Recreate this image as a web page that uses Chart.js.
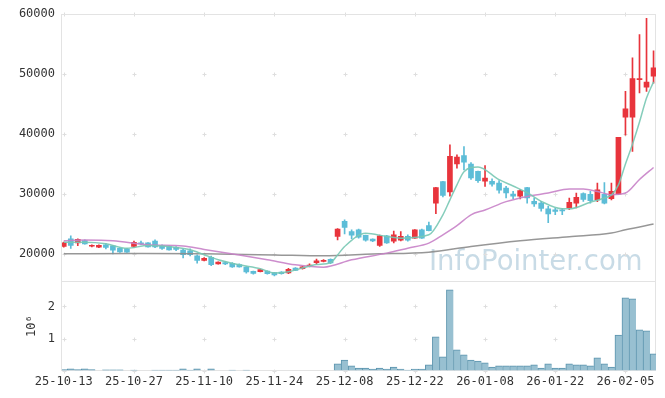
<!DOCTYPE html>
<html>
<head>
<meta charset="utf-8">
<script src="https://cdn.jsdelivr.net/npm/chart.js@4.4.1/dist/chart.umd.min.js"></script>
<style>
  html, body { margin: 0; padding: 0; background: #fff; }
</style>
</head>
<body>
<canvas id="myChart" width="665" height="398"></canvas>
<script>
// tick labels, one every 10 trading days
const tickLabels = ["25-10-13", "25-10-27", "25-11-10", "25-11-24", "25-12-08", "25-12-22", "26-01-08", "26-01-22", "26-02-05"];
const priceTicks = [20000, 30000, 40000, 50000, 60000];
const volumeTicks = [0, 1000000, 2000000];

// daily candles, index 0 = 25-10-13
const opens = [21200, 22500, 21800, 22200, 21250, 21100, 21500, 21300, 20900, 20800,
  21200, 21800, 21800, 22100, 21300, 21200, 21050, 20600, 20500, 19650,
  18900, 19400, 18300, 18500, 18400, 18200, 17750, 17050, 17000, 17100,
  16850, 16950, 16800, 17600, 17500, 17950, 18500, 18700, 19050, 22900,
  25400, 23700, 24000, 23050, 22450, 21400, 23000, 22100, 22250, 22900,
  22600, 24000, 24700, 28450, 32050, 30300, 35000, 36400, 34950, 33750,
  32100, 32100, 31800, 30950, 29950, 29600, 31050, 28750, 28450, 27500,
  27350, 27300, 27650, 28450, 30050, 29900, 29000, 29900, 29200, 29950,
  42800, 42800, 49050, 47800, 49650];
const highs = [21950, 23000, 22500, 22300, 21500, 21500, 21700, 21400, 21000, 20900,
  22100, 22100, 21850, 22300, 21500, 21300, 21200, 20800, 20800, 19800,
  19350, 19600, 18650, 18700, 18500, 18300, 17850, 17100, 17450, 17150,
  16900, 17000, 17550, 17700, 17900, 18300, 19100, 19000, 19150, 24200,
  25650, 24000, 24100, 23100, 22500, 23100, 23050, 23800, 23700, 23150,
  24050, 24100, 25300, 31100, 32100, 38200, 36500, 37900, 35200, 33800,
  34700, 32500, 32200, 31250, 30400, 30700, 31100, 29300, 28750, 27900,
  27600, 27600, 29300, 30130, 30150, 30400, 31800, 31900, 31800, 39450,
  47100, 52700, 56600, 59300, 53900];
const lows = [21100, 20900, 21350, 21600, 21150, 21000, 20800, 19950, 20200, 20200,
  21100, 21500, 21100, 21000, 20700, 20600, 20500, 19300, 19650, 18430,
  18800, 18000, 18250, 18150, 17700, 17750, 16750, 16600, 16950, 16600,
  16300, 16600, 16650, 17150, 17400, 17800, 18200, 18650, 18350, 22300,
  23300, 22500, 22600, 22100, 22000, 21200, 21700, 21800, 22150, 22100,
  22550, 22550, 23800, 26700, 29500, 29600, 34300, 34000, 32400, 31900,
  31250, 31300, 30100, 29300, 29200, 29150, 28450, 27900, 27100, 25200,
  26500, 26500, 27350, 27650, 28750, 28450, 28700, 28300, 29000, 29900,
  39800, 37100, 46850, 47100, 48500];
const closes = [21800, 21400, 22400, 21650, 21380, 21400, 21050, 20600, 20300, 20250,
  21900, 21650, 21150, 21150, 20900, 20650, 20700, 19850, 19850, 18900,
  19250, 18150, 18600, 18300, 17800, 17800, 16950, 16700, 17350, 16650,
  16450, 16650, 17400, 17200, 17800, 18100, 18800, 18900, 18450, 24100,
  24400, 23100, 22750, 22250, 22150, 23000, 21800, 23150, 22900, 22250,
  24000, 22600, 23850, 31050, 29750, 36250, 36150, 35300, 32650, 32200,
  32650, 31600, 30600, 30150, 29600, 30550, 29300, 28300, 27550, 26650,
  27050, 27150, 28600, 29400, 29050, 28850, 30650, 28450, 30400, 39450,
  44200, 49250, 49250, 48650, 51050];
const volumes = [30000, 55000, 30000, 55000, 30000, null, 25000, 25000, 25000, null,
  20000, null, null, 20000, 20000, 20000, 20000, 55000, 20000, 55000,
  null, 55000, null, null, 20000, null, 20000, null, null, null,
  null, null, null, null, null, null, null, null, null, 210000,
  330000, 150000, 80000, 80000, 50000, 80000, 50000, 110000, 50000, 20000,
  50000, 50000, 180000, 1050000, 430000, 2520000, 650000, 490000, 330000, 300000,
  240000, 110000, 150000, 150000, 150000, 150000, 150000, 180000, 80000, 210000,
  80000, 80000, 210000, 180000, 180000, 150000, 400000, 210000, 110000, 1110000,
  2270000, 2240000, 1270000, 1240000, 520000];

// moving averages at selected days
const ma5Days = [0, 3, 6, 9, 12, 14, 16, 18, 20, 22, 25, 28, 30, 32, 34, 36, 38, 39, 40, 43, 46, 48, 52, 54, 55, 56, 57, 59, 62, 64, 66, 68, 71, 72, 75, 77, 78, 79, 80, 81, 82, 83, 84];
const ma5 = [21900, 21900, 21650, 20900, 21380, 21300, 21050, 20650, 19820, 19000, 18150, 17500, 16800, 17000, 17600, 18200, 18500, 19800, 21200, 23400, 22880, 22600, 23160, 26500, 29000, 31500, 33700, 34500, 32360, 31300, 30200, 28750, 27500, 27500, 28600, 29300, 29800, 31500, 35000, 38300, 42000, 46000, 48700];
const ma20Days = [0, 3, 7, 12, 17, 20, 25, 29, 33, 37, 41, 46, 49, 52, 54, 56, 58, 60, 63, 66, 69, 72, 74, 76, 78, 80, 82, 84];
const ma20 = [22150, 22270, 22160, 21500, 21300, 20700, 19800, 19000, 18150, 17750, 18980, 20100, 20930, 21770, 23160, 24700, 26500, 27300, 28700, 29570, 30130, 30800, 30800, 30400, 29850, 30130, 32400, 34400];
const ma60Days = [0, 10, 20, 30, 37, 44, 52, 58, 65, 72, 78, 80, 84];
const ma60 = [20000, 20020, 19980, 19800, 19650, 19950, 20250, 21200, 22150, 22850, 23450, 24000, 24950];

const upColor = "#e8343c";
const downColor = "#5dbdd7";
const candleColor = (c) => closes[c.dataIndex] >= opens[c.dataIndex] ? upColor : downColor;
const days = opens.map((v, i) => i);
const tickFont = { family: "'DejaVu Sans Mono', monospace", size: 12 };

function maLine(dayList, values, color) {
  return {
    type: "line",
    data: dayList.map((d, k) => ({ x: d, y: values[k] })),
    borderColor: color,
    borderWidth: 1.5,
    pointRadius: 0,
    cubicInterpolationMode: "monotone",
    yAxisID: "y",
    order: 0,
  };
}

// cross marks, panel frames and the watermark, drawn under the data
const panelPlugin = {
  id: "panels",
  beforeDatasetsDraw(chart) {
    const ctx = chart.ctx;
    const area = chart.chartArea;
    const xs = chart.scales.x;
    const panels = [chart.scales.y, chart.scales.yv];
    ctx.save();
    ctx.font = "27.5px 'DejaVu Sans'";
    ctx.fillStyle = "#c8dbe6";
    ctx.textBaseline = "alphabetic";
    ctx.fillText("InfoPointer.com", area.right - 227, chart.scales.y.bottom - 12);

    ctx.strokeStyle = "#dedede";
    ctx.lineWidth = 1;
    panels.forEach((s) => {
      s.ticks.forEach((t) => {
        const py = Math.round(s.getPixelForValue(t.value)) + 0.5;
        xs.ticks.forEach((xt) => {
          const px = Math.round(xs.getPixelForValue(xt.value)) + 0.5;
          ctx.beginPath();
          ctx.moveTo(px - 2, py);
          ctx.lineTo(px + 2, py);
          ctx.moveTo(px, py - 2);
          ctx.lineTo(px, py + 2);
          ctx.stroke();
        });
      });
    });
    ctx.strokeStyle = "#e3e3e3";
    panels.forEach((s) => {
      ctx.strokeRect(Math.round(area.left) - 0.5, Math.round(s.top) + 0.5,
        Math.round(area.right - area.left), Math.round(s.bottom - s.top));
    });
    ctx.restore();
  },
};

const data = {
  datasets: [
    maLine(ma5Days, ma5, "rgba(120,200,180,0.9)"),
    maLine(ma20Days, ma20, "rgba(200,130,200,0.9)"),
    maLine(ma60Days, ma60, "rgba(140,140,140,0.9)"),
    {
      label: "body",
      data: days.map((i) => ({ x: i, y: [opens[i], closes[i]] })),
      backgroundColor: candleColor,
      barThickness: 5,
      minBarLength: 1,
      grouped: false,
      yAxisID: "y",
      order: 1,
    },
    {
      label: "wick",
      data: days.map((i) => ({ x: i, y: [lows[i], highs[i]] })),
      backgroundColor: candleColor,
      barThickness: 1,
      grouped: false,
      yAxisID: "y",
      order: 2,
    },
    {
      label: "volume",
      data: days.map((i) => ({ x: i, y: volumes[i] })),
      backgroundColor: "#98c0d1",
      borderColor: "#5a93ad",
      borderWidth: { left: 1, top: 1, right: 0, bottom: 0 },
      barThickness: 7,
      grouped: false,
      yAxisID: "yv",
      order: 3,
    },
  ],
};

const config = {
  type: "bar",
  data: data,
  options: {
    responsive: false,
    animation: false,
    layout: { padding: { top: 13, right: 9, bottom: 5, left: 0 } },
    plugins: { legend: { display: false }, tooltip: { enabled: false } },
    scales: {
      x: {
        type: "linear",
        min: -0.25,
        max: 84.35,
        offset: false,
        grid: { display: false, drawTicks: false, offset: false },
        border: { display: false },
        afterBuildTicks: (s) => { s.ticks = tickLabels.map((t, k) => ({ value: k * 10 })); },
        ticks: {
          autoSkip: false,
          maxRotation: 0,
          padding: 4,
          color: "#333",
          font: tickFont,
          callback: (v) => tickLabels[Math.round(v / 10)],
        },
      },
      y: {
        position: "left",
        stack: "panels",
        stackWeight: 3,
        weight: 2,
        min: 15360,
        max: 60000,
        grid: { display: false, drawTicks: false },
        border: { display: false },
        afterBuildTicks: (s) => { s.ticks = priceTicks.map((v) => ({ value: v })); },
        ticks: { padding: 7, color: "#333", font: tickFont, callback: (v) => String(v) },
        afterFit: (s) => { s.width = 62; },
      },
      yv: {
        position: "left",
        stack: "panels",
        stackWeight: 1,
        weight: 1,
        min: 0,
        max: 2780000,
        grid: { display: false, drawTicks: false },
        border: { display: false },
        afterBuildTicks: (s) => { s.ticks = volumeTicks.map((v) => ({ value: v })); },
        ticks: {
          padding: 7,
          color: "#333",
          font: tickFont,
          callback: (v) => (v === 0 ? "" : String(v / 1000000)),
        },
        title: { display: true, text: "10⁶", color: "#333", font: tickFont, padding: { top: 25, bottom: 0 } },
        afterFit: (s) => { s.width = 62; },
      },
    },
  },
  plugins: [panelPlugin],
};

const myChart = new Chart(document.getElementById("myChart"), config);
</script>
</body>
</html>
